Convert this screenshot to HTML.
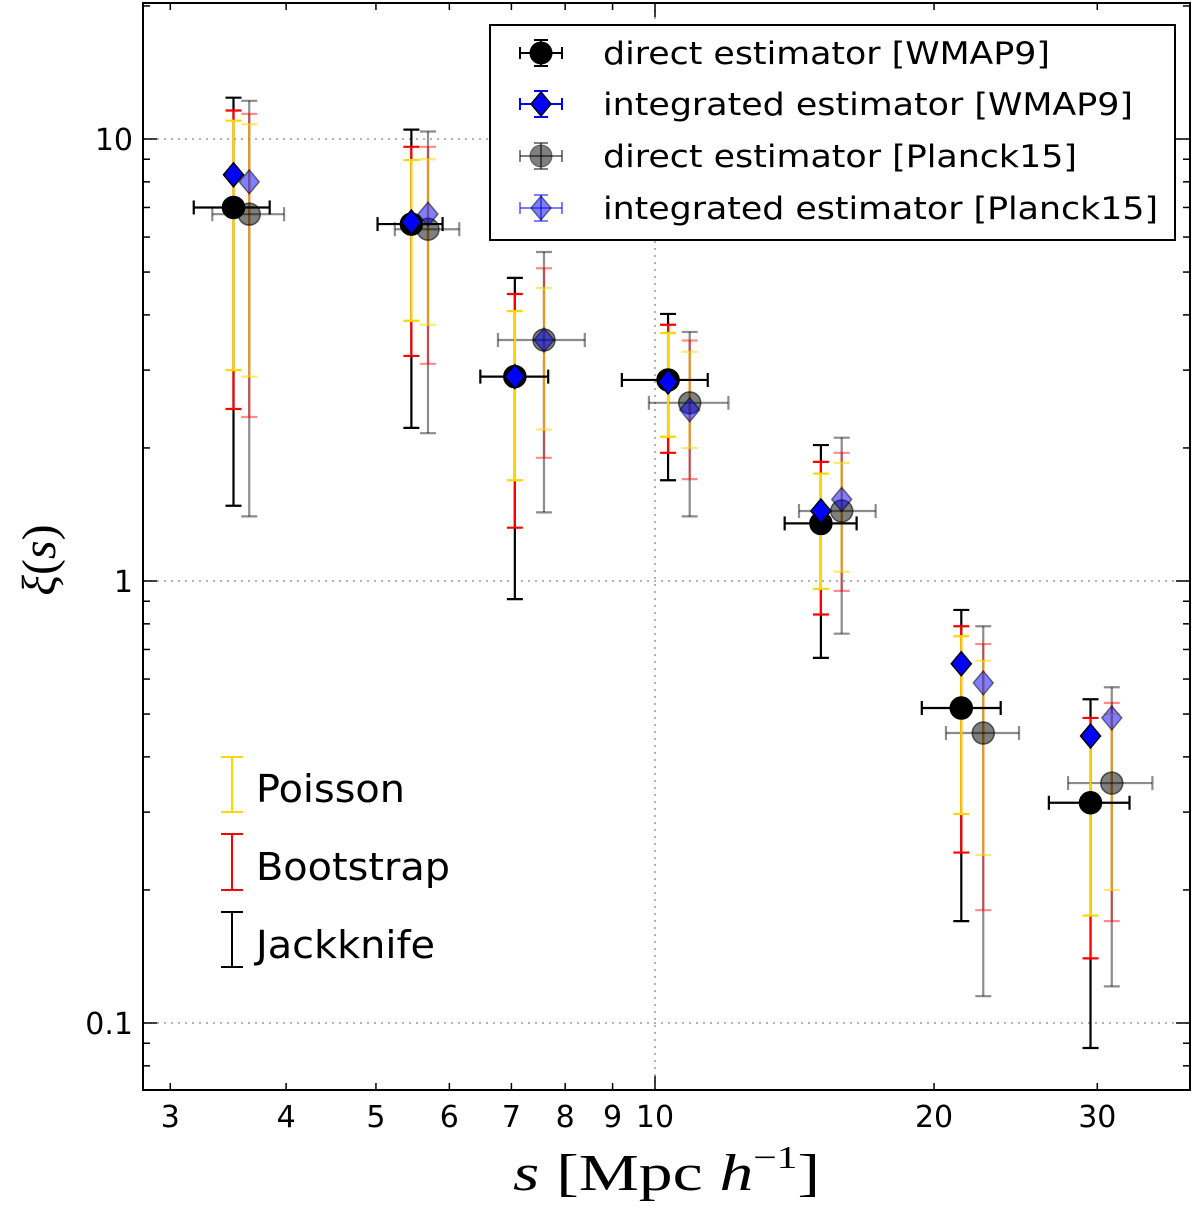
<!DOCTYPE html>
<html><head><meta charset="utf-8"><style>
body{margin:0;background:#fff}
svg{display:block;font-family:"DejaVu Sans","Liberation Sans",sans-serif}
</style></head><body>
<svg id="chart" width="1200" height="1209" viewBox="0 0 1200 1209">
<rect x="0" y="0" width="1200" height="1209" fill="#fff"/>
<g id="grid"></g>
<g id="ticks"></g>
<g id="marks"></g>
<rect x="143" y="3" width="1047" height="1087" fill="none" stroke="#000" stroke-width="2"/>
<text x="513" y="1190" textLength="307" lengthAdjust="spacingAndGlyphs" font-family="Liberation Serif,serif" font-size="52"><tspan font-style="italic">s</tspan> [Mpc <tspan font-style="italic">h</tspan><tspan font-size="32" dy="-22">−1</tspan><tspan dy="22">]</tspan></text>
<text transform="translate(55,560) rotate(-90)" text-anchor="middle" font-family="Liberation Serif,serif" font-size="48"><tspan font-style="italic">ξ</tspan>(<tspan font-style="italic">s</tspan>)</text>
<g>
<rect x="490" y="25" width="685" height="215" fill="#fff" stroke="#000" stroke-width="2"/>
<g id="legmarks"></g>
<text x="603" y="64" font-size="31" textLength="447" lengthAdjust="spacingAndGlyphs">direct estimator [WMAP9]</text>
<text x="603" y="115" font-size="31" textLength="530" lengthAdjust="spacingAndGlyphs">integrated estimator [WMAP9]</text>
<text x="603" y="167" font-size="31" textLength="474" lengthAdjust="spacingAndGlyphs">direct estimator [Planck15]</text>
<text x="603" y="219" font-size="31" textLength="555" lengthAdjust="spacingAndGlyphs">integrated estimator [Planck15]</text>
</g>
<g>
<g stroke="#ffd700" stroke-width="2"><line x1="232" y1="757" x2="232" y2="812"/><line x1="221" y1="757" x2="243" y2="757"/><line x1="221" y1="812" x2="243" y2="812"/></g>
<g stroke="#ff0000" stroke-width="2"><line x1="232" y1="834" x2="232" y2="890"/><line x1="221" y1="834" x2="243" y2="834"/><line x1="221" y1="890" x2="243" y2="890"/></g>
<g stroke="#000" stroke-width="2"><line x1="232" y1="912" x2="232" y2="967"/><line x1="221" y1="912" x2="243" y2="912"/><line x1="221" y1="967" x2="243" y2="967"/></g>
<text x="256" y="802" font-size="38" textLength="149" lengthAdjust="spacingAndGlyphs">Poisson</text>
<text x="256" y="880" font-size="38" textLength="194" lengthAdjust="spacingAndGlyphs">Bootstrap</text>
<text x="256" y="958" font-size="38" textLength="179" lengthAdjust="spacingAndGlyphs">Jackknife</text>
</g>
</svg>
<script>
const sW = [3.51,5.46,7.06,10.33,15.1,21.4,29.5];
const sP = [3.65,5.69,7.59,10.9,15.9,22.6,31.1];
const xiDirW = [7.0,6.42,2.90,2.85,1.35,0.516,0.315];
const xiIntW = [8.3,6.49,2.90,2.82,1.44,0.65,0.446];
const xiDirP = [6.76,6.25,3.51,2.53,1.44,0.453,0.349];
const xiIntP = [8.0,6.76,3.51,2.44,1.53,0.588,0.49];
const jackLoW = [1.48,2.22,0.91,1.69,0.67,0.170,0.0878];
const jackHiW = [12.4,10.5,4.85,4.02,2.03,0.86,0.54];
const bootLoW = [2.45,3.23,1.32,1.95,0.84,0.243,0.140];
const bootHiW = [11.6,9.6,4.46,3.80,1.86,0.79,0.49];
const poisLoW = [3.0,3.88,1.69,2.12,0.96,0.297,0.175];
const poisHiW = [11.0,8.96,4.08,3.64,1.75,0.75,0.455];
const jackLoP = [1.40,2.16,1.43,1.40,0.76,0.115,0.121];
const jackHiP = [12.2,10.4,5.55,3.66,2.11,0.79,0.575];
const bootLoP = [2.35,3.1,1.9,1.7,0.95,0.18,0.17];
const bootHiP = [11.4,9.6,5.1,3.5,1.95,0.72,0.53];
const poisLoP = [2.9,3.8,2.2,2.0,1.05,0.24,0.2];
const poisHiP = [10.8,9.0,4.6,3.3,1.85,0.66,0.5];
const xLoW = [3.18,5.02,6.48,9.21,13.8,19.4,26.6];
const xHiW = [3.84,5.90,7.67,11.4,16.5,23.6,32.5];
const xLoP = [3.33,5.24,6.77,9.85,14.3,20.6,27.9];
const xHiP = [3.98,6.15,8.40,12.0,17.3,24.7,34.4];
const xTickLabels = ["3","4","5","6","7","8","9","10","20","30"];
const xTickVals = [3,4,5,6,7,8,9,10,20,30];
const yTickLabels = ["0.1","1","10"];
const yTickVals = [0.1,1,10];

const NS="http://www.w3.org/2000/svg";
const X0=143,X1=1190,Y0=3,Y1=1090;
function xs(v){return 655+(Math.log10(v)-1)*927;}
function ys(v){return 139-(Math.log10(v)-1)*442;}
function mk(parent,tag,attrs){const e=document.createElementNS(NS,tag);for(const k in attrs)e.setAttribute(k,attrs[k]);parent.appendChild(e);return e;}
const grid=document.getElementById('grid'),ticks=document.getElementById('ticks'),marks=document.getElementById('marks');
yTickVals.forEach(v=>{const l=mk(grid,'line',{x1:X0,x2:X1,y1:ys(v),y2:ys(v),stroke:'#999','stroke-dasharray':'2,5','stroke-width':1.5});

});
{const l=mk(grid,'line',{x1:xs(10),x2:xs(10),y1:Y0,y2:Y1,stroke:'#999','stroke-dasharray':'2,5','stroke-width':1.5});

}
for(let d=1;d<=40;d++){let v=d<10?d:(d%10===0?d:null);if(v===null||v<3)continue;const x=xs(v);if(x>X1)continue;
const major=(v===10);const len=major?14:7;
mk(ticks,'line',{x1:x,x2:x,y1:Y1,y2:Y1-len,stroke:'#000','stroke-width':1.5});
mk(ticks,'line',{x1:x,x2:x,y1:Y0,y2:Y0+len,stroke:'#000','stroke-width':1.5});}
xTickVals.forEach((v,i)=>{const t=mk(ticks,'text',{x:xs(v),y:1127,'text-anchor':'middle','font-size':30});t.textContent=xTickLabels[i];

});
[0.01,0.1,1,10].forEach(dec=>{for(let m=1;m<10;m++){const v=dec*m;const y=ys(v);if(y<Y0||y>Y1)continue;const len=m===1?14:7;
mk(ticks,'line',{x1:X0,x2:X0+len,y1:y,y2:y,stroke:'#000','stroke-width':1.5});
mk(ticks,'line',{x1:X1,x2:X1-len,y1:y,y2:y,stroke:'#000','stroke-width':1.5});}});
yTickVals.forEach((v,i)=>{const t=mk(ticks,'text',{x:133,y:ys(v)+11,'text-anchor':'end','font-size':30});t.textContent=yTickLabels[i];

});
function vbar(g,x,lo,hi,color,op){const a={stroke:color,'stroke-width':2.2,'stroke-opacity':op};
mk(g,'line',Object.assign({x1:x,x2:x,y1:ys(lo),y2:ys(hi)},a));
mk(g,'line',Object.assign({x1:x-8,x2:x+8,y1:ys(lo),y2:ys(lo)},a));
mk(g,'line',Object.assign({x1:x-8,x2:x+8,y1:ys(hi),y2:ys(hi)},a));}
function hbar(g,y,lo,hi,color,op){const a={stroke:color,'stroke-width':2.2,'stroke-opacity':op};
mk(g,'line',Object.assign({x1:xs(lo),x2:xs(hi),y1:y,y2:y},a));
mk(g,'line',Object.assign({x1:xs(lo),x2:xs(lo),y1:y-7,y2:y+7},a));
mk(g,'line',Object.assign({x1:xs(hi),x2:xs(hi),y1:y-7,y2:y+7},a));}
function diamond(g,x,y,fill,op){return mk(g,'polygon',{points:`${x},${y-12} ${x+10},${y} ${x},${y+12} ${x-10},${y}`,fill:fill,'fill-opacity':op,stroke:'#000','stroke-opacity':op,'stroke-width':1.5});}
sP.forEach((s,i)=>{const g=mk(marks,'g',{});


const x=xs(s);
vbar(g,x,jackLoP[i],jackHiP[i],'#000',0.45);
vbar(g,x,bootLoP[i],bootHiP[i],'#ff0000',0.45);
vbar(g,x,poisLoP[i],poisHiP[i],'#ffd700',0.55);
hbar(g,ys(xiDirP[i]),xLoP[i],xHiP[i],'#000',0.45);
mk(g,'circle',{cx:x,cy:ys(xiDirP[i]),r:11,fill:'#000','fill-opacity':0.5,stroke:'#000','stroke-opacity':0.6,'stroke-width':1.5});
diamond(g,x,ys(xiIntP[i]),'#0000ff',0.5);});
sW.forEach((s,i)=>{const g=mk(marks,'g',{});


const x=xs(s);
vbar(g,x,jackLoW[i],jackHiW[i],'#000',1);
vbar(g,x,bootLoW[i],bootHiW[i],'#ff0000',1);
vbar(g,x,poisLoW[i],poisHiW[i],'#ffd700',1);
hbar(g,ys(xiDirW[i]),xLoW[i],xHiW[i],'#000',1);
mk(g,'circle',{cx:x,cy:ys(xiDirW[i]),r:11,fill:'#000',stroke:'#000','stroke-width':1.5});
diamond(g,x,ys(xiIntW[i]),'#0000ff',1);});
const lm=document.getElementById('legmarks');
[[53,'#000',1,'c'],[104,'#0000ff',1,'d'],[156,'#000',0.5,'c'],[208,'#0000ff',0.5,'d']].forEach(r=>{
const g=mk(lm,'g',{});const [y,c,op,t]=r;


const a={stroke:c,'stroke-width':2,'stroke-opacity':op};
mk(g,'line',Object.assign({x1:520,x2:562,y1:y,y2:y},a));
mk(g,'line',Object.assign({x1:541,x2:541,y1:y-13,y2:y+13},a));
mk(g,'line',Object.assign({x1:520,x2:520,y1:y-6,y2:y+6},a));
mk(g,'line',Object.assign({x1:562,x2:562,y1:y-6,y2:y+6},a));
mk(g,'line',Object.assign({x1:534,x2:548,y1:y-13,y2:y-13},a));
mk(g,'line',Object.assign({x1:534,x2:548,y1:y+13,y2:y+13},a));
if(t==='c')mk(g,'circle',{cx:541,cy:y,r:11,fill:'#000','fill-opacity':op,stroke:'#000','stroke-opacity':op});
else diamond(g,541,y,'#0000ff',op);});
</script>
</body></html>
